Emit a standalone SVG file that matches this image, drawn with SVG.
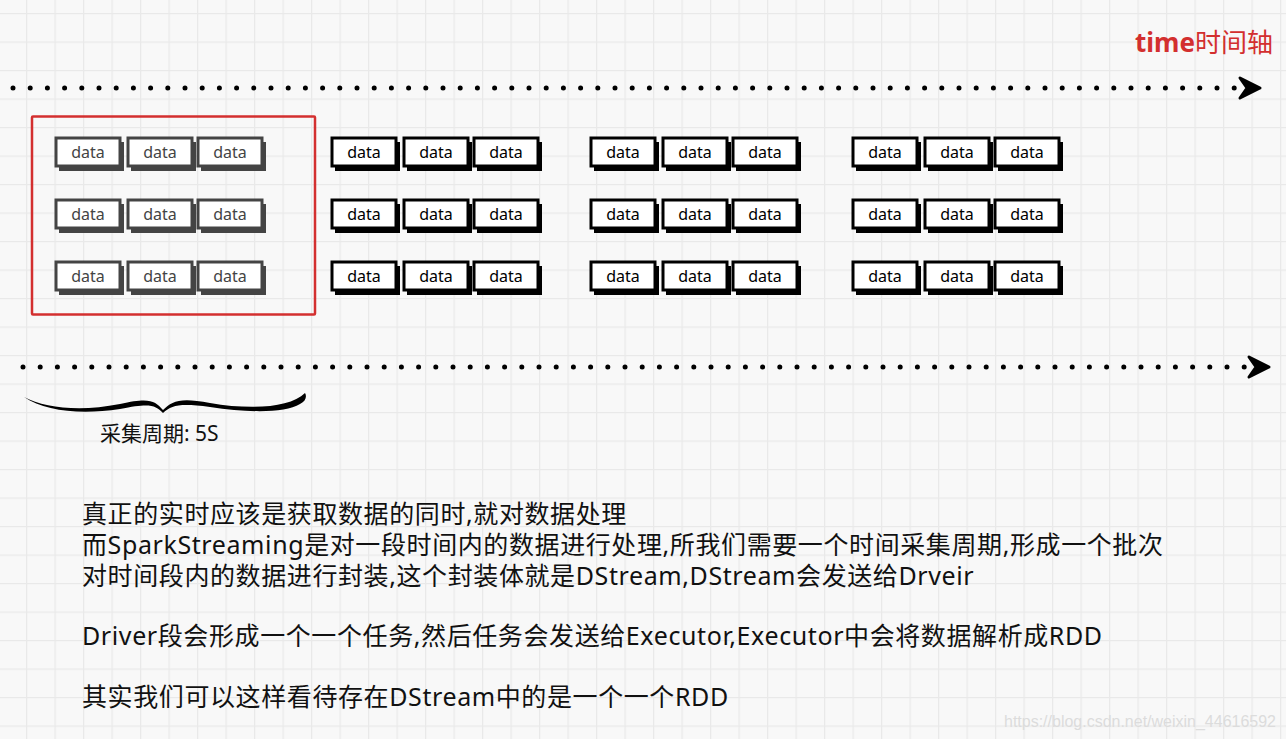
<svg xmlns="http://www.w3.org/2000/svg" width="1286" height="739" viewBox="0 0 1286 739">
<style>
.bg{fill:#f8f8f8}
.g1{color:#444}
.g{color:#000}
.dt{font-family:"Noto Sans","Liberation Sans",sans-serif;font-size:16px;text-anchor:middle}
.dots{stroke:#000;stroke-width:5;stroke-linecap:round;stroke-dasharray:0 17.2;fill:none}
.para{font-family:"Noto Sans","Noto Sans CJK SC",sans-serif;font-size:25px;letter-spacing:0.6px;fill:#111}
</style>
<defs>
<pattern id="grid" x="-2.5" y="13" width="28.5" height="28.5" patternUnits="userSpaceOnUse">
<path d="M0.5 0V28.5M0 0.5H28.5" stroke="#e9e9e9" stroke-width="1.5" fill="none"/>
</pattern>
<g id="d">
<rect x="3" y="4" width="65" height="29" fill="currentColor"/>
<rect x="0" y="0" width="64" height="28" fill="#fff" stroke="currentColor" stroke-width="3"/>
<text class="dt" x="32" y="20" fill="currentColor">data</text>
</g>
<path id="chev" d="M-20 -10 L0 0 L-20 10 L-13 0 Z" fill="#000" stroke="#000" stroke-width="3" stroke-linejoin="round"/>
</defs>
<rect class="bg" width="1286" height="739"/>
<rect width="1286" height="739" fill="url(#grid)"/>

<text id="time-label" x="1135" y="52" font-family="'Noto Sans','Noto Sans CJK SC',sans-serif" font-size="26" fill="#d32f2f"><tspan font-weight="bold">time</tspan>时间轴</text>

<g id="connectors">
<line class="dots" x1="13" y1="88" x2="1235" y2="88"/>
<use href="#chev" x="1260" y="88"/>
<line class="dots" x1="23" y1="367" x2="1248" y2="367"/>
<use href="#chev" x="1269" y="367"/>
</g>

<g id="batch-frame">
<rect x="32" y="116.5" width="283" height="198" fill="none" stroke="#d32f2f" stroke-width="2.5" rx="1"/>
</g>

<g id="batch1" class="g1">
<use href="#d" x="56" y="138"/><use href="#d" x="128" y="138"/><use href="#d" x="198" y="138"/>
<use href="#d" x="56" y="200"/><use href="#d" x="128" y="200"/><use href="#d" x="198" y="200"/>
<use href="#d" x="56" y="262"/><use href="#d" x="128" y="262"/><use href="#d" x="198" y="262"/>
</g>
<g id="batch2" class="g">
<use href="#d" x="332" y="138"/><use href="#d" x="404" y="138"/><use href="#d" x="474" y="138"/>
<use href="#d" x="332" y="200"/><use href="#d" x="404" y="200"/><use href="#d" x="474" y="200"/>
<use href="#d" x="332" y="262"/><use href="#d" x="404" y="262"/><use href="#d" x="474" y="262"/>
</g>
<g id="batch3" class="g">
<use href="#d" x="591" y="138"/><use href="#d" x="663" y="138"/><use href="#d" x="733" y="138"/>
<use href="#d" x="591" y="200"/><use href="#d" x="663" y="200"/><use href="#d" x="733" y="200"/>
<use href="#d" x="591" y="262"/><use href="#d" x="663" y="262"/><use href="#d" x="733" y="262"/>
</g>
<g id="batch4" class="g">
<use href="#d" x="853" y="138"/><use href="#d" x="925" y="138"/><use href="#d" x="995" y="138"/>
<use href="#d" x="853" y="200"/><use href="#d" x="925" y="200"/><use href="#d" x="995" y="200"/>
<use href="#d" x="853" y="262"/><use href="#d" x="925" y="262"/><use href="#d" x="995" y="262"/>
</g>

<g id="brace">
<path d="M24 397 C45 408 80 412 120 404 C150 397 155 401 163 410 C172 401 180 397 210 403 C250 410 290 408 305 393 C307 396 306 401 300 404 C285 413 250 413 210 407 C180 403 172 405 163 413 C155 405 150 403 120 409 C80 415 45 411 24 397 Z" fill="#000"/>
<text x="100" y="441" font-family="'Noto Sans','Noto Sans CJK SC',sans-serif" font-size="21" fill="#111">采集周期: 5S</text>
</g>

<g id="notes">
<text class="para" x="82" y="523">真正的实时应该是获取数据的同时,就对数据处理</text>
<text class="para" x="82" y="554">而SparkStreaming是对一段时间内的数据进行处理,所我们需要一个时间采集周期,形成一个批次</text>
<text class="para" x="82" y="585">对时间段内的数据进行封装,这个封装体就是DStream,DStream会发送给Drveir</text>
<text class="para" x="82" y="645">Driver段会形成一个一个任务,然后任务会发送给Executor,Executor中会将数据解析成RDD</text>
<text class="para" x="82" y="706">其实我们可以这样看待存在DStream中的是一个一个RDD</text>
</g>

<text id="watermark" x="1004" y="727" font-family="'Liberation Sans',sans-serif" font-size="16" textLength="272" lengthAdjust="spacingAndGlyphs" fill="#dcdcdc">https://blog.csdn.net/weixin_44616592</text>
</svg>
